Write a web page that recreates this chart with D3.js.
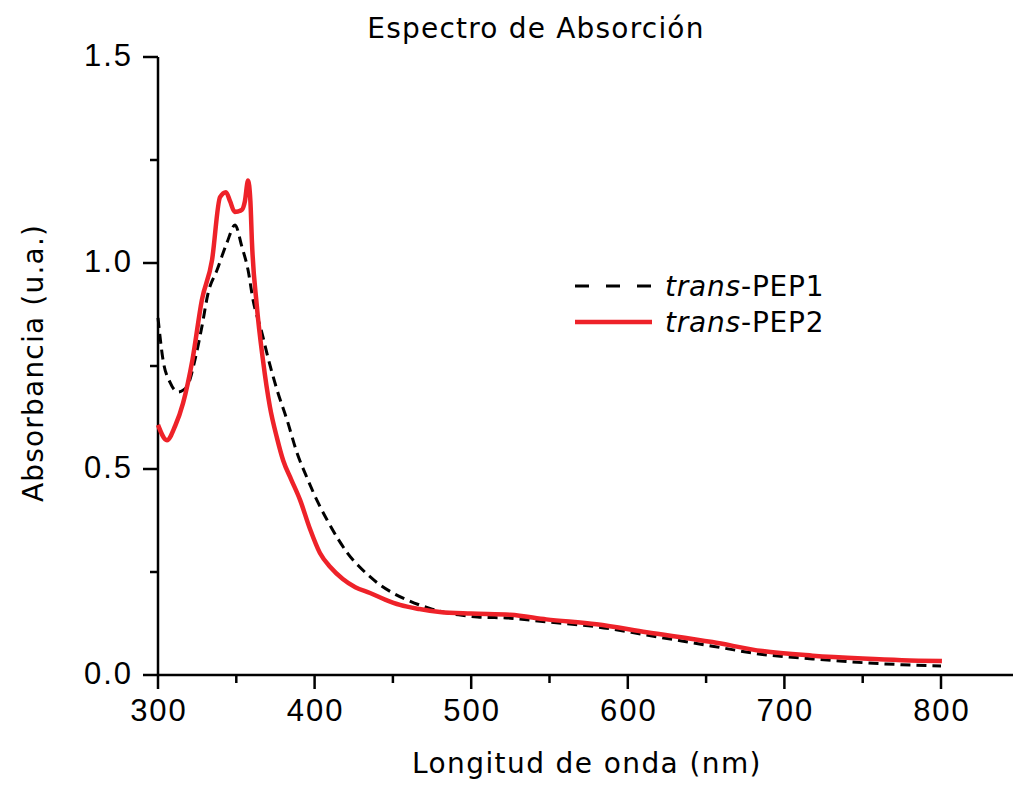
<!DOCTYPE html>
<html>
<head>
<meta charset="utf-8">
<script src="https://cdn.jsdelivr.net/npm/d3@7"></script>
<style>
  html, body { margin: 0; padding: 0; background: #fff; }
  svg { display: block; }
</style>
</head>
<body>
<svg id="chart" width="1013" height="785"></svg>
<script>
// Absorption spectra: wavelength (nm) and absorbance (u.a.)
const wavelengthPEP1 = [300, 303.2, 307.7, 312.8, 318.5, 323.6, 328, 332, 337.7, 344, 349.2, 353.6, 357.5, 360.7, 366.4, 369.6, 376, 382.4, 388.8, 395, 402, 408, 415, 421, 428, 435, 442, 450, 458, 467, 475, 482, 492, 504, 525, 548, 580, 612, 654, 686, 718, 750, 775, 800];
const absorbancePEP1 = [0.867, 0.765, 0.71, 0.687, 0.70, 0.765, 0.845, 0.927, 0.983, 1.049, 1.092, 1.039, 0.983, 0.91, 0.83, 0.78, 0.692, 0.619, 0.539, 0.48, 0.42, 0.376, 0.33, 0.296, 0.265, 0.24, 0.218, 0.199, 0.184, 0.170, 0.160, 0.153, 0.146, 0.141, 0.138, 0.129, 0.117, 0.097, 0.070, 0.050, 0.039, 0.030, 0.025, 0.022];

const wavelengthPEP2 = [300, 305.7, 311, 316, 322, 328, 334.5, 339.6, 343.4, 346, 349, 351, 353.6, 355.5, 357.5, 359, 360, 363, 367, 371.5, 376, 380, 385, 390.7, 397, 403.4, 410, 418, 426, 435.4, 445, 454.5, 467, 480, 500, 525, 548, 580, 612, 654, 686, 718, 750, 775, 800.6];
const absorbancePEP2 = [0.607, 0.570, 0.605, 0.66, 0.765, 0.91, 1.007, 1.16, 1.172, 1.15, 1.124, 1.125, 1.129, 1.15, 1.20, 1.15, 1.05, 0.90, 0.765, 0.65, 0.575, 0.52, 0.475, 0.425, 0.355, 0.296, 0.262, 0.233, 0.213, 0.199, 0.183, 0.170, 0.160, 0.153, 0.149, 0.146, 0.135, 0.123, 0.104, 0.080, 0.058, 0.047, 0.040, 0.036, 0.034];

const xMajorTicks = [300, 400, 500, 600, 700, 800];
const xMinorTicks = [350, 450, 550, 650, 750];
const yMajorTicks = [0.0, 0.5, 1.0, 1.5];
const yMinorTicks = [0.25, 0.75, 1.25];

const seriesNames = ["PEP1", "PEP2"];

const svg = d3.select("#chart");

const x = d3.scaleLinear().domain([300, 800]).range([158, 941]);
const y = d3.scaleLinear().domain([0, 1.5]).range([675, 57]);

const axisColor = "#000";
const axisWidth = 2.5;

// x axis
const gx = svg.append("g").attr("transform", `translate(0,${y(0)})`);
gx.append("line")
  .attr("x1", x(300)).attr("x2", 1013)
  .attr("stroke", axisColor).attr("stroke-width", axisWidth);
gx.selectAll("line.major").data(xMajorTicks).join("line")
  .attr("class", "major")
  .attr("x1", d => x(d)).attr("x2", d => x(d))
  .attr("y1", 0).attr("y2", 14)
  .attr("stroke", axisColor).attr("stroke-width", axisWidth);
gx.selectAll("line.minor").data(xMinorTicks).join("line")
  .attr("class", "minor")
  .attr("x1", d => x(d)).attr("x2", d => x(d))
  .attr("y1", 0).attr("y2", 8)
  .attr("stroke", axisColor).attr("stroke-width", axisWidth);
gx.selectAll("text").data(xMajorTicks).join("text")
  .attr("x", d => x(d) + 1).attr("y", 46)
  .attr("text-anchor", "middle")
  .attr("font-family", "Liberation Sans, Arial, sans-serif")
  .attr("font-size", 31)
  .attr("letter-spacing", 2)
  .text(d => d3.format("d")(d));

// y axis
const gy = svg.append("g").attr("transform", `translate(${x(300)},0)`);
gy.append("line")
  .attr("y1", y(0)).attr("y2", y(1.5))
  .attr("stroke", axisColor).attr("stroke-width", axisWidth);
gy.selectAll("line.major").data(yMajorTicks).join("line")
  .attr("class", "major")
  .attr("y1", d => y(d)).attr("y2", d => y(d))
  .attr("x1", 0).attr("x2", -15)
  .attr("stroke", axisColor).attr("stroke-width", axisWidth);
gy.selectAll("line.minor").data(yMinorTicks).join("line")
  .attr("class", "minor")
  .attr("y1", d => y(d)).attr("y2", d => y(d))
  .attr("x1", 0).attr("x2", -8)
  .attr("stroke", axisColor).attr("stroke-width", axisWidth);
gy.selectAll("text").data(yMajorTicks).join("text")
  .attr("x", -25).attr("y", d => y(d) + 9)
  .attr("text-anchor", "end")
  .attr("font-family", "Liberation Sans, Arial, sans-serif")
  .attr("font-size", 31)
  .attr("letter-spacing", 2)
  .text(d => d3.format(".1f")(d));

// spectra
const line = d3.line()
  .x(d => x(d[0]))
  .y(d => y(d[1]))
  .curve(d3.curveMonotoneX);

const pep1 = wavelengthPEP1.map((w, i) => [w, absorbancePEP1[i]]);
const pep2 = wavelengthPEP2.map((w, i) => [w, absorbancePEP2[i]]);

svg.append("path")
  .datum(pep1)
  .attr("d", line)
  .attr("fill", "none")
  .attr("stroke", "#000")
  .attr("stroke-width", 3)
  .attr("stroke-dasharray", "10,6");

svg.append("path")
  .datum(pep2)
  .attr("d", line)
  .attr("fill", "none")
  .attr("stroke", "#ee2229")
  .attr("stroke-width", 4.5)
  .attr("stroke-linejoin", "round");

// title and axis titles
const labelFont = "DejaVu Sans, Verdana, sans-serif";
svg.append("text")
  .attr("x", 536).attr("y", 38)
  .attr("text-anchor", "middle")
  .attr("font-family", labelFont)
  .attr("font-size", 28)
  .attr("letter-spacing", 1.2)
  .text("Espectro de Absorción");

svg.append("text")
  .attr("x", 587).attr("y", 773)
  .attr("text-anchor", "middle")
  .attr("font-family", labelFont)
  .attr("font-size", 28)
  .attr("letter-spacing", 1.4)
  .text("Longitud de onda (nm)");

svg.append("text")
  .attr("transform", "translate(43,363) rotate(-90)")
  .attr("text-anchor", "middle")
  .attr("font-family", labelFont)
  .attr("font-size", 28)
  .attr("letter-spacing", 1.2)
  .text("Absorbancia (u.a.)");

// legend
const legend = svg.append("g");
const legendItems = [
  { name: seriesNames[0], y: 286, stroke: "#000", width: 3, dash: "14,17" },
  { name: seriesNames[1], y: 322, stroke: "#ee2229", width: 4.5, dash: null }
];
legendItems.forEach(item => {
  legend.append("line")
    .attr("x1", 575).attr("x2", 652)
    .attr("y1", item.y).attr("y2", item.y)
    .attr("stroke", item.stroke)
    .attr("stroke-width", item.width)
    .attr("stroke-dasharray", item.dash);
  const t = legend.append("text")
    .attr("x", 665).attr("y", item.y + 10)
    .attr("font-family", labelFont)
    .attr("font-size", 28)
    .attr("letter-spacing", 0.8);
  t.append("tspan").attr("font-style", "italic").text("trans");
  t.append("tspan").text("-" + item.name);
});
</script>
</body>
</html>
